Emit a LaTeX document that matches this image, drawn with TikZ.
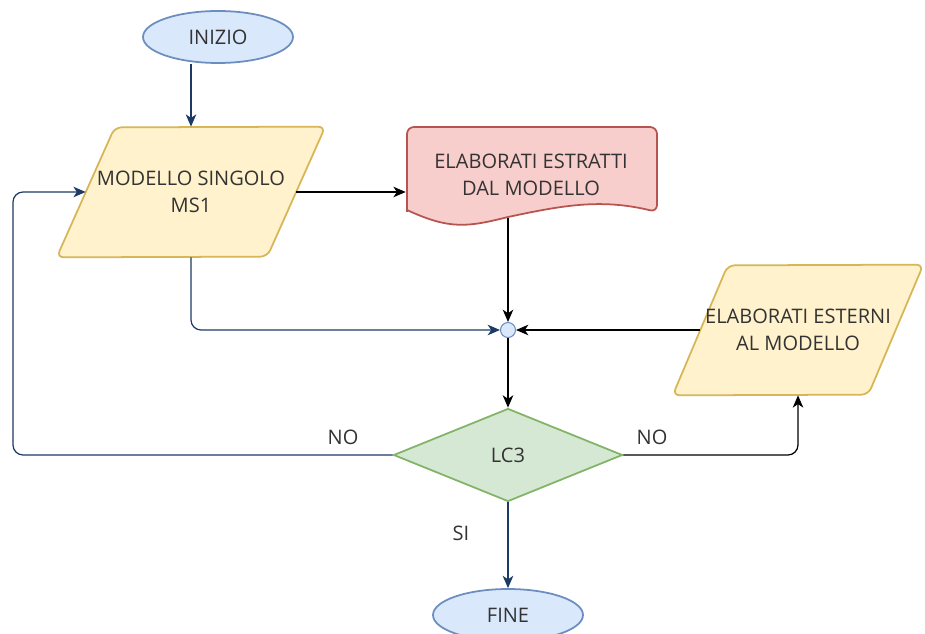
\documentclass[tikz,border=0pt]{standalone}
\usepackage{fontspec}
\setmainfont{Open Sans}
\usepackage{xcolor}
\usetikzlibrary{arrows.meta,shapes.geometric,positioning,backgrounds}
\definecolor{bluefill}{HTML}{DAE8FC}
\definecolor{bluedraw}{HTML}{6C8EBF}
\definecolor{yelfill}{HTML}{FFF2CC}
\definecolor{yeldraw}{HTML}{D6B656}
\definecolor{redfill}{HTML}{F8CECC}
\definecolor{reddraw}{HTML}{B85450}
\definecolor{grnfill}{HTML}{D5E8D4}
\definecolor{grndraw}{HTML}{82B366}
\definecolor{navy}{HTML}{1B3A66}
\definecolor{txt}{HTML}{333333}

\begin{document}
\begin{tikzpicture}[x=0.02cm,y=-0.02cm,
	font=\fontsize{11.4}{15.5}\selectfont,
	every node/.style={text=txt,align=center},
	term/.style={ellipse,draw=bluedraw,fill=bluefill,line width=1pt,minimum width=3cm,minimum height=1.04cm,inner sep=0pt},
	databox/.style={rectangle,minimum height=2.6cm,inner sep=0pt},
	dataline/.style={draw=yeldraw,fill=yelfill,line width=1pt,rounded corners=0.14cm},
	decision/.style={diamond,draw=grndraw,fill=grnfill,line width=1pt,minimum width=4.58cm,minimum height=1.86cm,inner sep=0pt},
	junction/.style={circle,draw=bluedraw,fill=bluefill,line width=0.6pt,minimum size=0.3cm,inner sep=0pt},
	flow/.style={line width=0.7pt,-{Stealth[length=7pt,width=6pt,inset=2pt]}},
	lbl/.style={font=\fontsize{11.4}{13}\selectfont}]
			\useasboundingbox (0,0) rectangle (925,634);
			% nodes
			\node[term] (inizio) at (218,37) {INIZIO};
			\node[databox,minimum width=5.36cm] (ms1) at (191,192) {MODELLO SINGOLO\\MS1};
			\node[minimum width=5cm,minimum height=1.88cm,inner sep=0pt] (elab) at (531,175) {ELABORATI ESTRATTI\\DAL MODELLO};
			\node[junction] (j) at (508,330) {};
			\node[databox,minimum width=5cm] (ext) at (798,330) {ELABORATI ESTERNI\\AL MODELLO};
			\node[decision] (lc3) at (508,455) {LC3};
			\node[term] (fine) at (508,615) {FINE};
			\coordinate (loop) at (13,455);
			% shapes behind the texts
			\begin{scope}[on background layer]
			\draw[dataline] (ms1.south west) -- ++(58,-130) -- (ms1.north east) -- ++(-58,130) -- cycle;
			\draw[dataline] (ext.south west) -- ++(55,-130) -- (ext.north east) -- ++(-55,130) -- cycle;
			\draw[draw=reddraw,fill=redfill,line width=1pt,rounded corners=0.14cm]
				(407,212) -- (407,127) -- (657,127) -- (657,212)
				[sharp corners] .. controls (600,198) and (560,206) .. (508,217)
				.. controls (468,227) and (450,230) .. (407,210) -- cycle;
			\end{scope}
			% connectors
			\draw[flow,navy] (inizio.south -| ms1.north) -- (ms1.north);
			\draw[flow,black] ([xshift=-0.58cm]ms1.east) -- (ms1.east -| elab.west);
			\draw[flow,black] (j |- 0,218) -- (j.north);
			\draw[flow,navy,rounded corners=0.2cm] (ms1.south) |- (j.west);
			\draw[flow,black] ([xshift=0.55cm]ext.west) -- (j.east);
			\draw[flow,black] (j.south) -- (lc3.north);
			\draw[flow,navy,rounded corners=0.2cm] (lc3.west) -- (loop) |- ([xshift=0.58cm]ms1.west);
			\draw[flow,black,rounded corners=0.2cm] (lc3.east) -| (ext.south);
			\draw[flow,navy] (lc3.south) -- (fine.north);
			% labels
			\node[lbl] (no1) at (343,437) {NO};
			\node[lbl] (no2) at (652,437) {NO};
			\node[lbl] (si) at (461,533) {SI};
\end{tikzpicture}
\end{document}
